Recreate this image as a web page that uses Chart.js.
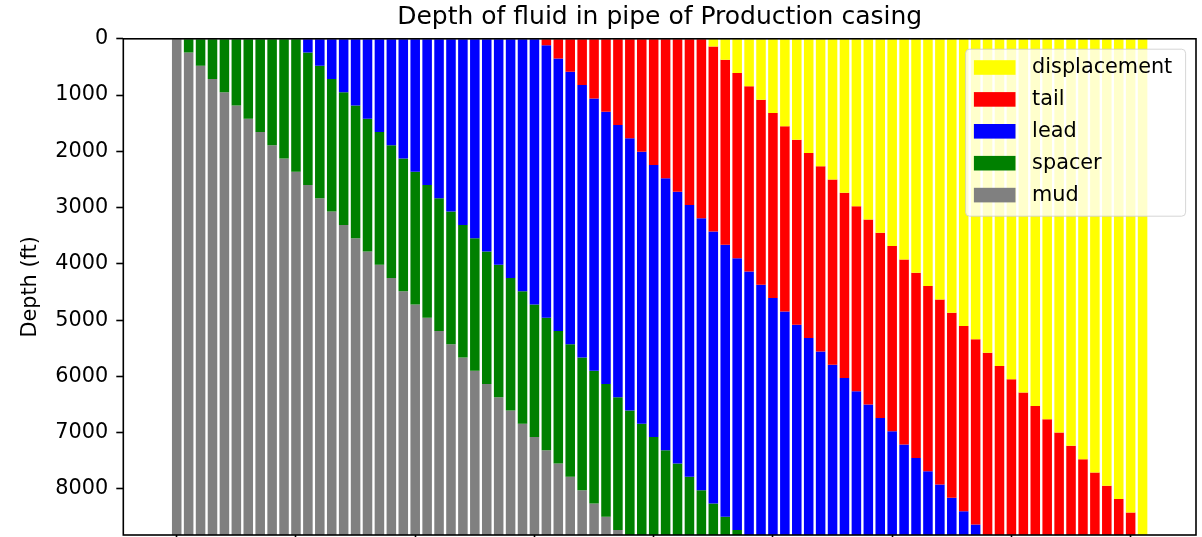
<!DOCTYPE html>
<html>
<head>
<meta charset="utf-8">
<title>Depth of fluid in pipe of Production casing</title>
<script src="https://cdn.jsdelivr.net/npm/chart.js@4/dist/chart.umd.min.js"></script>
<style>
  html, body { margin: 0; padding: 0; background: #fff; overflow: hidden; }
</style>
</head>
<body>
<canvas id="chart" width="1202" height="537"></canvas>
<script>
// pumping steps (bar index) and the total pipe depth
const steps = Array.from({ length: 82 }, (_, i) => i);
const totalDepth = 8818;

const fluidNames = ["displacement", "tail", "lead", "spacer", "mud"];
const fluidColors = ["#ffff00", "#ff0000", "#0000ff", "#008000", "#808080"];

// length of each fluid column (ft), read from top of pipe down
const displacement = [
  0, 0, 0, 0, 0, 0, 0, 0, 0, 0, 0, 0, 0, 0, 0, 0, 0, 0, 0, 0,
  0, 0, 0, 0, 0, 0, 0, 0, 0, 0, 0, 0, 0, 0, 0, 0, 0, 0, 0, 0,
  0, 0, 0, 0, 0, 135, 372, 609, 845, 1082, 1318, 1555, 1792, 2028, 2265, 2501, 2738, 2975, 3211, 3448,
  3684, 3921, 4158, 4394, 4631, 4867, 5104, 5341, 5578, 5814, 6051, 6287, 6524, 6761, 6997, 7234, 7470, 7707, 7944, 8180,
  8417, 8818
];
const tail = [
  0, 0, 0, 0, 0, 0, 0, 0, 0, 0, 0, 0, 0, 0, 0, 0, 0, 0, 0, 0,
  0, 0, 0, 0, 0, 0, 0, 0, 0, 0, 0, 113, 350, 586, 823, 1059, 1296, 1533, 1769, 2006,
  2242, 2479, 2716, 2952, 3189, 3290, 3290, 3290, 3290, 3290, 3290, 3290, 3290, 3290, 3290, 3290, 3290, 3290, 3290, 3290,
  3290, 3290, 3290, 3290, 3290, 3290, 3290, 3290, 3240, 3004, 2767, 2531, 2294, 2057, 1821, 1584, 1348, 1111, 874, 638,
  401, 0
];
const lead = [
  0, 0, 0, 0, 0, 0, 0, 0, 0, 0, 0, 243, 478, 714, 950, 1186, 1421, 1657, 1893, 2128,
  2364, 2600, 2835, 3071, 3307, 3543, 3778, 4014, 4250, 4485, 4721, 4844, 4842, 4842, 4841, 4841, 4839, 4838, 4838, 4836,
  4836, 4835, 4833, 4833, 4832, 4832, 4830, 4829, 4683, 4446, 4210, 3973, 3736, 3500, 3263, 3027, 2790, 2553, 2317, 2080,
  1844, 1607, 1370, 1134, 897, 661, 424, 187, 0, 0, 0, 0, 0, 0, 0, 0, 0, 0, 0, 0,
  0, 0
];
const spacer = [
  0, 243, 478, 714, 950, 1186, 1421, 1657, 1893, 2128, 2364, 2357, 2357, 2357, 2357, 2357, 2357, 2357, 2357, 2357,
  2357, 2357, 2357, 2357, 2357, 2357, 2357, 2357, 2357, 2357, 2357, 2357, 2357, 2357, 2357, 2357, 2357, 2357, 2211, 1976,
  1740, 1504, 1269, 1033, 797, 561, 326, 90, 0, 0, 0, 0, 0, 0, 0, 0, 0, 0, 0, 0,
  0, 0, 0, 0, 0, 0, 0, 0, 0, 0, 0, 0, 0, 0, 0, 0, 0, 0, 0, 0,
  0, 0
];
const mud = [
  8818, 8575, 8340, 8104, 7868, 7632, 7397, 7161, 6925, 6690, 6454, 6218, 5983, 5747, 5511, 5275, 5040, 4804, 4568, 4333,
  4097, 3861, 3626, 3390, 3154, 2918, 2683, 2447, 2211, 1976, 1740, 1504, 1269, 1033, 797, 561, 326, 90, 0, 0,
  0, 0, 0, 0, 0, 0, 0, 0, 0, 0, 0, 0, 0, 0, 0, 0, 0, 0, 0, 0,
  0, 0, 0, 0, 0, 0, 0, 0, 0, 0, 0, 0, 0, 0, 0, 0, 0, 0, 0, 0,
  0, 0
];

const xTicks = [0, 10, 20, 30, 40, 50, 60, 70, 80];
const yTicks = [0, 1000, 2000, 3000, 4000, 5000, 6000, 7000, 8000];

const font = "DejaVu Sans";
Chart.defaults.font.family = font;
Chart.defaults.color = "#000";

const series = [displacement, tail, lead, spacer, mud];

// matplotlib-like frame + legend in the upper right corner
const framePlugin = {
  id: "frameAndLegend",
  afterDraw(chart) {
    const { ctx, chartArea } = chart;
    ctx.save();
    ctx.strokeStyle = "#000";
    ctx.lineWidth = 1.6;
    ctx.strokeRect(chartArea.left, chartArea.top, chartArea.right - chartArea.left, chartArea.bottom - chartArea.top);

    const w = 220, h = 167;
    const bx = chartArea.right - 10.4 - w;
    const by = chartArea.top + 10.4;
    ctx.beginPath();
    ctx.roundRect(bx, by, w, h, 4);
    ctx.fillStyle = "rgba(255,255,255,0.8)";
    ctx.fill();
    ctx.strokeStyle = "rgba(204,204,204,0.8)";
    ctx.lineWidth = 1;
    ctx.stroke();

    ctx.font = "20.8px '" + font + "'";
    ctx.textBaseline = "middle";
    ctx.textAlign = "left";
    chart.data.datasets.forEach((ds, i) => {
      const cy = by + 18.3 + i * 31.9;
      ctx.fillStyle = ds.backgroundColor;
      ctx.fillRect(bx + 8.3, cy - 7.3, 41.6, 14.6);
      ctx.fillStyle = "#000";
      ctx.fillText(ds.label, bx + 66.5, cy + 0.5);
    });
    ctx.restore();
  }
};

const ctx = document.getElementById("chart").getContext("2d");

new Chart(ctx, {
  type: "bar",
  data: {
    labels: steps,
    datasets: fluidNames.map((name, i) => ({
      label: name,
      data: series[i],
      backgroundColor: fluidColors[i],
      borderWidth: 0,
      barPercentage: 0.8,
      categoryPercentage: 1.0
    }))
  },
  options: {
    responsive: false,
    animation: false,
    layout: { padding: { left: 0, right: 6, top: 0, bottom: 0 }, autoPadding: false },
    plugins: {
      legend: { display: false },
      tooltip: { enabled: false },
      title: {
        display: true,
        text: "Depth of fluid in pipe of Production casing",
        fullSize: false,
        color: "#000",
        font: { size: 25, weight: "normal" },
        padding: { top: 2.6, bottom: 6.2 }
      }
    },
    scales: {
      x: {
        type: "linear",
        stacked: true,
        offset: false,
        min: -4.48,
        max: 85.48,
        afterBuildTicks: (s) => { s.ticks = xTicks.map(v => ({ value: v })); },
        ticks: { display: false },
        grid: { offset: false, drawOnChartArea: false, drawTicks: true, tickLength: 7, tickWidth: 1.6, tickColor: "#000" },
        border: { display: false },
        afterFit: (s) => {
          s.height = 2;
          s.paddingLeft = 0; s.paddingRight = 0; s.paddingTop = 0; s.paddingBottom = 0;
        }
      },
      y: {
        stacked: true,
        reverse: true,
        min: 0,
        max: totalDepth,
        afterBuildTicks: (s) => { s.ticks = yTicks.map(v => ({ value: v })); },
        ticks: {
          color: "#000",
          font: { size: 20.8 },
          padding: 8,
          callback: (v) => String(v)
        },
        grid: { drawOnChartArea: false, drawTicks: true, tickLength: 7, tickWidth: 1.6, tickColor: "#000" },
        border: { display: false },
        title: {
          display: true,
          text: "Depth (ft)",
          color: "#000",
          font: { size: 20.8 },
          padding: { top: 18, bottom: 0 }
        },
        afterFit: (s) => {
          s.width = 123.3;
          s.paddingLeft = 0; s.paddingRight = 0; s.paddingTop = 0; s.paddingBottom = 0;
        }
      }
    }
  },
  plugins: [framePlugin]
});
</script>
</body>
</html>
